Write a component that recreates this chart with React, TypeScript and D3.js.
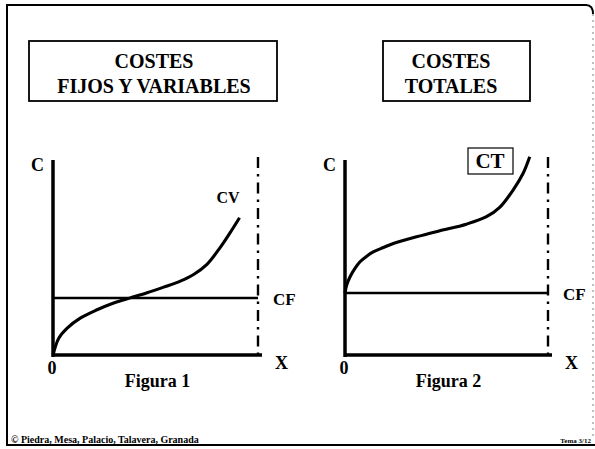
import React from "react";
import * as d3 from "d3";

const titles1 = ["COSTES", "FIJOS Y VARIABLES"];
const titles2 = ["COSTES", "TOTALES"];
const figLabels = ["Figura 1", "Figura 2"];
const footerText = "© Piedra, Mesa, Palacio, Talavera, Granada";
const footerRight = "Tema 3/12";

const cfValue1 = 2.92;
const cfValue2 = 3.18;

const cvX = [0, 0.28, 0.68, 1.33, 2.15, 2.96, 3.77, 4.59, 5.4, 6.21, 6.86, 7.51, 8.16, 8.65, 9.1];
const cvY = [0, 0.86, 1.37, 1.89, 2.32, 2.67, 2.93, 3.19, 3.48, 3.79, 4.13, 4.65, 5.52, 6.29, 7.04];

const ctX = [0, 0.08, 0.25, 0.49, 0.74, 1.07, 1.39, 1.89, 2.38, 3.52, 4.67, 5.98, 6.97, 7.62, 8.28, 8.77, 9.1];
const ctY = [3.18, 3.58, 4.01, 4.44, 4.78, 5.07, 5.29, 5.51, 5.72, 6.06, 6.37, 6.71, 7.09, 7.57, 8.46, 9.31, 10.17];

const FONT = "'Liberation Serif', 'DejaVu Serif', serif";

type PanelProps = {
  x0: number; x1: number; y0: number; y1: number;
  cf: number; xs: number[]; ys: number[];
  curveLabel: string; fig: string; boxed: boolean;
  labelPos: [number, number];
};

function Panel(p: PanelProps) {
  const x = d3.scaleLinear().domain([0, 10]).range([p.x0, p.x1]);
  const y = d3.scaleLinear().domain([0, 10]).range([p.y0, p.y1]);
  const pts: [number, number][] = p.xs.map((v, i) => [v, p.ys[i]]);
  const line = d3.line<[number, number]>().x(d => x(d[0])).y(d => y(d[1])).curve(d3.curveCatmullRom.alpha(0.5));
  const [lx, ly] = p.labelPos;
  const ts = { fontFamily: FONT, fontWeight: 700 } as React.CSSProperties;
  return (
    <g fill="#000">
      <line x1={x(10)} x2={x(10)} y1={y(10.15)} y2={y(0)} stroke="#000" strokeWidth={2.4} strokeDasharray="11,6,2.5,6" />
      <line x1={x(0)} x2={x(10)} y1={y(p.cf)} y2={y(p.cf)} stroke="#000" strokeWidth={2.6} />
      <line x1={x(0)} x2={x(0)} y1={y(10)} y2={y(0) + 2} stroke="#000" strokeWidth={3.5} />
      <line x1={x(0) - 1} x2={x(10) + 4} y1={y(0)} y2={y(0)} stroke="#000" strokeWidth={3.3} />
      <path d={line(pts) || ""} fill="none" stroke="#000" strokeWidth={3.1} />
      <text style={ts} x={x(0) - 9} y={y(10) + 11} fontSize={18} textAnchor="end">C</text>
      <text style={ts} x={x(0) - 1} y={y(0) + 19} fontSize={18} textAnchor="middle">0</text>
      <text style={ts} x={x(10) + 17} y={y(0) + 14} fontSize={18}>X</text>
      <text style={ts} x={x(10) + 15} y={y(p.cf) + 7} fontSize={17}>CF</text>
      <text style={ts} x={(x(0) + x(10)) / 2 + 2} y={y(0) + 32} fontSize={18} textAnchor="middle">{p.fig}</text>
      {p.boxed ? (
        <g>
          <rect x={lx - 22} y={ly - 20} width={45} height={26} fill="none" stroke="#000" strokeWidth={1.2} />
          <text style={ts} x={lx} y={ly} fontSize={21} textAnchor="middle">{p.curveLabel}</text>
        </g>
      ) : (
        <text style={ts} x={lx} y={ly} fontSize={16} textAnchor="middle">{p.curveLabel}</text>
      )}
    </g>
  );
}

function TitleBox({ x, y, w, h, cx, lines }: { x: number; y: number; w: number; h: number; cx: number; lines: string[] }) {
  const ts = { fontFamily: FONT, fontWeight: 700 } as React.CSSProperties;
  return (
    <g>
      <rect x={x} y={y} width={w} height={h} fill="none" stroke="#000" strokeWidth={1.8} />
      {lines.map((t, i) => (
        <text key={i} style={ts} x={cx} y={68 + i * 25} fontSize={20} textAnchor="middle">{t}</text>
      ))}
    </g>
  );
}

export default function App() {
  const ft = { fontFamily: FONT, fontWeight: 700 } as React.CSSProperties;
  return (
    <svg width={595} height={449} style={{ position: "absolute", left: 0, top: 0, background: "#fff" }}>
      <rect x={0} y={0} width={595} height={449} fill="#fff" />
      <path d="M7,446 L7,5 L586,5 Q593,5 593,14" fill="none" stroke="#000" strokeWidth={2} />
      <line x1={593} x2={593} y1={14} y2={440} stroke="#000" strokeWidth={1} strokeDasharray="2,4" opacity={0.5} />
      <line x1={7} x2={595} y1={445} y2={445} stroke="#000" strokeWidth={2.2} />
      <TitleBox x={29} y={41} w={248} h={60} cx={154} lines={titles1} />
      <TitleBox x={383} y={41} w={147} h={60} cx={451} lines={titles2} />
      <Panel x0={53} x1={258} y0={355} y1={160} cf={cfValue1} xs={cvX} ys={cvY} curveLabel="CV" fig={figLabels[0]} boxed={false} labelPos={[228, 203]} />
      <Panel x0={345} x1={548} y0={355} y1={160} cf={cfValue2} xs={ctX} ys={ctY} curveLabel="CT" fig={figLabels[1]} boxed={true} labelPos={[490, 168]} />
      <text style={ft} x={11} y={443} fontSize={10}>{footerText}</text>
      <text style={ft} x={591} y={443} fontSize={7} textAnchor="end">{footerRight}</text>
    </svg>
  );
}
